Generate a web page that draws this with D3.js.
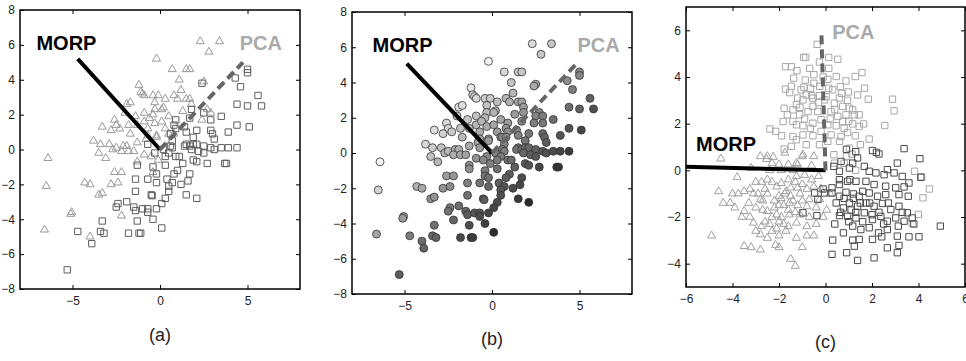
<!DOCTYPE html>
<html lang="en">
<head>
  <meta charset="UTF-8">
  <title>MORP vs PCA</title>
  <style>
    body { margin: 0; background: #fff; }
    svg { display: block; font-family: "Liberation Sans", Arial, sans-serif; }
    .axis path { display: none; }
    .axis line { stroke: #000; }
    .axis text { font-size: 12px; fill: #222; }
    .frame { fill: none; stroke: #000; stroke-width: 1.5; }
    .figlabel { font-size: 18px; text-anchor: middle; fill: #222; }
  </style>
</head>
<body>
<svg id="chart" width="966" height="361"></svg>
<script src="https://d3js.org/d3.v7.min.js"></script>
<script>
// panel (a)/(b): same samples, class 1 = triangles, class 2 = squares
var triAB = [[2.3,6.2],[3.4,6.2],[2.8,5.6],[-0.2,5.2],[0.7,4.6],[1.5,4.6],[1.7,4.6],[1.1,4.0],[2.5,3.9],
  [-1.2,3.7],[-1.0,3.2],[-0.9,3.1],[-0.4,3.1],[-0.1,3.1],[0.3,2.9],[0.8,3.1],[1.2,3.4],[1.0,2.9],[1.5,2.9],
  [1.7,2.9],[-1.7,2.7],[-0.3,2.7],[0.2,2.4],[-0.3,2.3],[0.1,2.3],[-0.9,2.1],[-1.4,1.9],[-2.0,2.1],[-0.4,2.0],
  [2.7,2.3],[2.9,2.1],[2.4,1.7],[1.3,2.2],[1.8,2.6],[0.5,1.9],[-1.9,2.6],[-2.6,1.7],[-2.5,1.4],[-3.3,1.3],
  [-2.8,1.1],[-2.3,1.2],[-1.8,1.4],[-1.7,0.9],[-1.3,1.4],[-0.9,1.6],[-0.7,1.2],[-0.3,1.5],[0.1,1.6],[0.5,0.9],
  [-3.8,0.5],[-3.4,0.3],[-2.9,0.3],[-2.5,0.1],[-2.1,0.2],[-1.9,0.2],[-1.3,0.4],[-0.7,0.8],[-0.2,0.8],[0.8,0.9],
  [-0.8,0.6],[-0.2,0.7],[-6.4,-0.5],[-3.5,-0.2],[-3.1,-0.5],[-2.7,0.0],[-2.2,-0.1],[-1.8,-0.1],[-1.5,-0.1],
  [-0.9,-0.3],[-1.3,-0.7],[-0.4,-1.3],[-2.6,-1.3],[-2.2,-1.3],[-6.5,-2.1],[-4.3,-1.9],[-4.0,-2.0],[-2.8,-2.0],
  [-2.4,-1.9],[-3.5,-2.6],[-3.3,-2.5],[-5.1,-3.7],[-5.05,-3.6],[-2.2,-3.8],[-6.6,-4.6],[-4.0,-5.0],[-0.5,-0.4],
  [-0.1,-0.6],[-1.1,3.3],[-0.6,1.8],[0.3,1.2]];
var sqAB = [[5.0,4.6],[5.0,4.4],[4.3,4.1],[4.6,3.6],[5.6,3.1],[4.4,2.6],[5.0,2.5],[5.8,2.5],[2.4,3.8],[3.5,1.9],
  [2.9,1.7],[4.4,1.4],[3.9,1.0],[5.1,1.3],[1.8,2.3],[2.5,2.1],[1.7,1.8],[0.9,1.7],[1.4,1.3],[2.1,1.1],[2.9,1.1],
  [0.8,1.4],[3.0,0.9],[3.1,0.6],[1.9,0.3],[1.5,0.3],[2.5,0.2],[2.9,0.1],[3.5,0.1],[3.9,0.1],[4.4,0.1],[0.6,0.2],
  [0.7,0.5],[-0.7,0.3],[-0.3,-0.2],[0.2,0.0],[0.5,-0.2],[0.7,0.1],[0.9,-0.4],[1.1,-0.4],[1.3,-0.8],[1.4,0.2],
  [1.7,0.2],[1.9,0.7],[1.5,1.0],[1.8,0.0],[2.1,0.3],[2.2,-0.1],[2.5,-0.2],[1.9,-0.6],[2.1,-0.7],[2.7,-0.8],
  [3.8,-0.8],[3.1,0.0],[0.6,0.9],[0.9,1.2],[0.3,-0.4],[-0.2,-1.4],[0.3,-0.9],[-1.3,-0.9],[-0.4,-1.0],[0.8,-1.4],
  [1.0,-1.2],[1.7,-1.4],[-1.4,-1.7],[-0.7,-1.7],[-0.2,-1.9],[0.4,-1.7],[0.7,-1.9],[1.2,-2.0],[1.6,-1.8],
  [-1.4,-2.4],[-0.5,-2.6],[-0.45,-2.65],[0.5,-2.1],[0.5,-2.4],[1.5,-2.6],[2.1,-2.8],[0.3,-2.8],[0.1,-3.1],
  [-0.2,-3.4],[-0.7,-3.4],[-1.0,-3.4],[-1.5,-3.3],[-1.4,-3.5],[-1.9,-3.0],[-2.4,-3.1],[-2.5,-3.3],[-0.7,-3.6],
  [-0.4,-4.0],[-1.3,-4.1],[-3.3,-4.1],[-4.7,-4.7],[-3.4,-4.7],[-3.2,-4.8],[-3.9,-5.4],[-1.8,-4.8],[-1.2,-4.8],
  [-1.1,-4.8],[0.1,-4.5],[-5.3,-6.9],[3.7,-0.8]];
var morpAB = [[-4.7, 5.2], [-4.87, 5.07]];   // end of MORP axis (a), (b)
var pcaAB = [[4.74, 5.0], [4.78, 5.01]];     // end of PCA axis (a), (b)

// panel (c)
var triC = [[-4.5,0.5],[-3.8,-0.3],[-4.6,-0.9],[-4.4,-1.4],[-4.0,-1.0],[-3.75,-1.0],[-3.5,-0.9],[-3.25,-0.8],
  [-3.0,-0.5],[-2.75,-0.5],[-2.5,-0.4],[-2.8,0.6],[-2.5,0.6],[-2.3,0.3],[-2.0,0.25],[-1.6,0.25],[-1.2,0.25],
  [-1.0,0.6],[-1.75,0.75],[-2.54,0.48],[-2.25,0.57],[-0.5,0.6],[-0.97,0.67],[-1.25,0.31],[-3.1,-1.0],
  [-2.8,-1.25],[-2.5,-1.0],[-2.1,-0.7],[-1.9,-0.55],[-1.6,-0.4],[-1.25,-0.25],[-0.9,-0.2],[-0.6,-0.4],
  [-0.3,-0.25],[-0.5,-0.7],[-0.8,-0.8],[-1.2,-0.75],[-1.5,-0.75],[-1.75,-1.0],[-2.0,-1.1],[-1.5,-1.1],
  [-1.1,-1.0],[-0.7,-1.25],[-0.25,-1.25],[0.05,-1.7],[-0.4,-1.6],[-0.8,-1.55],[-1.2,-1.5],[-1.55,-1.4],
  [-1.8,-1.5],[-2.2,-1.6],[-2.5,-1.75],[-3.5,-1.75],[-3.6,-2.0],[-3.25,-2.0],[-3.1,-2.25],[-2.75,-2.4],
  [-2.4,-2.3],[-2.3,-2.0],[-2.0,-2.2],[-1.6,-2.4],[-1.25,-2.25],[-0.8,-2.4],[-0.4,-2.3],[-1.55,-1.9],
  [-1.1,-1.9],[-0.7,-2.0],[-3.0,-2.6],[-2.8,-2.75],[-2.5,-2.9],[-2.0,-2.8],[-1.25,-2.9],[-0.8,-2.8],
  [-0.5,-2.8],[-4.9,-2.8],[-3.5,-3.25],[-3.2,-3.3],[-2.8,-3.4],[-2.15,-3.2],[-2.0,-3.3],[-1.5,-3.8],
  [-1.3,-4.1],[-1.9,-1.2],[-1.7,-0.9],[-1.4,-1.3],[-1.3,-0.5],[-1.0,-1.3],[-2.2,-1.3],[-2.3,-2.6],[-2.1,-2.5],
  [-1.9,-2.0],[-2.6,-2.2],[-3.0,-1.6],[-3.3,-1.4],[-2.9,-1.0],[-2.6,-0.8],[-2.3,-0.5],[-1.4,0.0],[-1.9,0.0],
  [-2.4,0.0],[-3.2,0.1],[-0.6,0.2],[-0.2,-0.8],[0.2,-1.0],[-0.1,-2.0],[-1.7,-2.6],[-1.0,-3.3],[-2.7,-1.7],
  [-3.9,-1.6],[-4.1,-1.4],[-1.8,-2.3],[-2.1,-1.9],[-1.3,-1.8],[-2.0,-1.5],[-1.6,-1.7],[-1.0,-0.6],[-2.7,-1.3]];
var lightC = [[-0.36,5.4],[0.14,4.84],[0.53,4.76],[-0.94,4.84],[-0.85,4.84],[-1.72,4.44],[-1.47,4.44],
  [-1.23,4.27],[-0.68,4.37],[-0.26,4.64],[0.14,4.37],[0.46,4.02],[1.28,4.02],[1.57,4.19],[0.88,3.83],[0.1,3.9],
  [-1.37,3.95],[-0.87,3.87],[-0.5,3.73],[-0.25,3.6],[-1.72,3.48],[-1.54,3.33],[-1.05,3.45],[-0.83,3.23],
  [-0.64,3.52],[0.14,3.52],[0.31,3.45],[0.64,3.59],[0.98,3.36],[1.38,3.23],[1.68,3.52],[1.84,3.05],[2.88,3.05],
  [2.95,2.55],[2.55,1.92],[1.64,1.99],[1.24,2.38],[1.03,2.66],[0.74,2.74],[0.38,2.88],[-0.04,3.02],[-0.54,3.09],
  [-0.97,3.02],[-1.25,2.81],[-1.4,2.59],[-1.78,2.66],[-1.64,2.38],[-1.11,2.38],[-0.75,2.52],[-0.54,2.74],
  [-0.33,2.52],[0.24,2.52],[0.53,2.31],[0.88,2.38],[1.17,2.59],[1.45,2.38],[1.45,1.88],[1.17,1.99],[0.74,2.09],
  [0.46,1.91],[0.1,1.95],[-0.19,2.17],[-0.54,2.02],[-0.97,1.91],[-1.25,1.95],[-1.82,2.09],[-2.39,1.77],
  [-2.14,1.67],[-1.89,1.48],[-1.4,1.45],[-0.97,1.52],[-0.54,1.48],[-0.19,1.67],[0.24,1.52],[0.67,1.45],
  [0.95,1.62],[1.28,1.48],[1.88,1.34],[1.5,1.1],[1.03,0.95],[0.6,1.24],[0.1,1.24],[-0.26,1.1],[-0.83,1.1],
  [-1.25,1.31],[-1.47,1.03],[-1.78,0.91],[0.36,0.67],[0.38,0.31],[1.14,0.7],[-0.93,3.56],[0.03,3.16],[-0.6,3.2],
  [-1.47,3.6],[0.6,3.1],[0.95,3.0],[-0.1,4.0],[-0.26,3.2],[-1.4,2.1],[-0.65,1.8],[0.8,1.8],[3.83,-0.04],
  [4.13,-0.28],[4.47,-0.8],[4.19,-1.18],[3.99,-1.89],[3.73,-2.28],[0.8,0.3],[1.3,0.0],[0.9,0.6],[-1.1,2.7],
  [-0.3,2.9],[0.4,2.6],[-0.9,2.2],[0.2,2.2],[-1.2,3.1],[0.7,3.3],[-0.5,4.1],[1.0,2.1]];
var darkC = [[3.38,0.93],[4.06,0.5],[3.09,0.31],[2.66,0.03],[2.02,0.85],[2.19,0.77],[2.3,0.7],[1.38,0.53],
  [1.17,0.31],[0.67,0.38],[0.36,0.17],[0.6,-0.04],[1.03,0.1],[1.67,0.17],[1.88,-0.04],[2.17,-0.11],[2.52,-0.19],
  [2.95,-0.11],[3.3,-0.26],[3.59,-0.54],[3.38,-0.71],[3.02,-0.75],[2.59,-0.68],[2.09,-0.61],[1.74,-0.47],
  [1.31,-0.47],[0.95,-0.47],[0.6,-0.61],[0.28,-0.75],[-0.04,-0.97],[-0.33,-1.25],[0.28,-0.97],[0.6,-1.11],
  [0.88,-0.94],[1.2,-1.01],[1.45,-1.11],[1.88,-0.97],[2.24,-1.11],[2.59,-1.04],[3.16,-1.04],[3.56,-1.11],
  [0.46,-1.4],[0.77,-1.61],[1.03,-1.4],[1.38,-1.54],[1.74,-1.4],[2.09,-1.54],[2.45,-1.42],[2.81,-1.68],
  [3.16,-1.54],[3.52,-1.82],[0.6,-1.94],[0.95,-1.97],[1.31,-2.04],[1.67,-1.82],[2.02,-2.11],[2.38,-1.97],
  [2.66,-2.18],[3.02,-2.04],[3.38,-2.18],[3.73,-2.04],[1.17,-2.39],[1.52,-2.54],[1.88,-2.46],[2.28,-2.68],
  [2.66,-2.54],[3.13,-2.39],[3.59,-2.85],[4.02,-2.85],[3.09,-2.82],[2.42,-2.85],[0.31,-2.99],[1.17,-2.99],
  [2.02,-2.96],[2.66,-3.32],[3.16,-3.22],[3.09,-3.53],[2.09,-3.75],[1.38,-3.86],[1.24,-3.25],[0.91,-3.53],
  [0.28,-3.6],[-0.97,-1.82],[-0.37,-1.94],[-0.47,-0.97],[-0.1,-0.8],[4.94,-2.39],[0.77,-2.68],[1.45,-2.96],
  [1.9,-1.4],[2.3,-1.8],[1.6,-0.9],[1.05,-0.4],[0.6,-0.4],[0.65,-1.8],[1.1,-1.7],[1.3,-1.8],[1.6,-2.2],
  [1.0,-2.2],[2.0,-1.9],[2.7,-1.4],[3.3,-1.8],[1.2,-1.2],[0.8,-1.2],[1.5,-1.4],[2.5,-2.3],[0.9,0.9],
  [1.3,0.8],[4.1,-0.3],[3.8,-2.3],[0.4,-2.3]];
var morpC = [-6, 0.15];   // end of MORP axis (c)
var pcaC = [-0.18, 6.0];  // end of PCA axis (c)

var svg = d3.select('#chart');

var panels = [
  {x: [20, 300], y: [10, 289], xd: [-8, 8], yd: [-8, 8], xt: [-5, 0, 5], yt: d3.range(-8, 9, 2),
   label: '(a)', labelY: 341, morp: [[0, 0], morpAB[0]], pca: [[0, 0], pcaAB[0]],
   morpText: [-7.06, 5.73], pcaText: [4.55, 5.73]},
  {x: [352, 632], y: [12, 294], xd: [-8, 8], yd: [-8, 8], xt: [-5, 0, 5], yt: d3.range(-8, 9, 2),
   label: '(b)', labelY: 345, morp: [[0, 0], morpAB[1]], pca: [[0, 0], pcaAB[1]],
   morpText: [-6.83, 5.73], pcaText: [4.88, 5.73]},
  {x: [686, 965], y: [7, 287], xd: [-6, 6], yd: [-5, 7], xt: d3.range(-6, 7, 2), yt: d3.range(-4, 7, 2),
   label: '(c)', labelY: 348, morp: [[0, 0], morpC], pca: [[0, 0], pcaC],
   morpText: [-5.57, 0.85], pcaText: [0.29, 5.63]}
];

var triSym = d3.symbol().type(d3.symbolTriangle).size(28);
var sqSym = d3.symbol().type(d3.symbolSquare).size(40);

// shade for (b): projection onto the MORP direction
var dir = [-0.67, 0.74];
var shade = d3.scaleLinear().domain([-4, 4]).range(['#1c1c1c', '#f4f4f4']).clamp(true);

panels.forEach(function (p, i) {
  var xs = d3.scaleLinear().domain(p.xd).range(p.x);
  var ys = d3.scaleLinear().domain(p.yd).range([p.y[1], p.y[0]]);
  var g = svg.append('g');

  // marks
  var marks = g.append('g');
  function pts(data, sym, color) {
    marks.selectAll(null).data(data).enter().append('path')
      .attr('d', sym)
      .attr('transform', function (d) { return 'translate(' + xs(d[0]) + ',' + ys(d[1]) + ')'; })
      .attr('fill', 'none').attr('stroke', color).attr('stroke-width', 1);
  }
  if (i === 0) {
    pts(triAB, triSym, '#9a9a9a');
    pts(sqAB, sqSym, '#5e5e5e');
  } else if (i === 1) {
    var all = triAB.concat(sqAB).map(function (d) {
      return {x: d[0], y: d[1], v: d[0] * dir[0] + d[1] * dir[1]};
    });
    all.sort(function (a, b) { return b.v - a.v; });
    marks.selectAll('circle').data(all).enter().append('circle')
      .attr('cx', function (d) { return xs(d.x); })
      .attr('cy', function (d) { return ys(d.y); })
      .attr('r', 4)
      .attr('fill', function (d) { return shade(d.v); })
      .attr('stroke', '#333').attr('stroke-width', 0.8);
  } else {
    pts(triC, triSym, '#a0a0a0');
    pts(lightC, sqSym, '#a8a8a8');
    pts(darkC, sqSym, '#4a4a4a');
  }

  // axis lines
  var line = d3.line().x(function (d) { return xs(d[0]); }).y(function (d) { return ys(d[1]); });
  g.append('path').attr('d', line(p.morp))
    .attr('stroke', '#000').attr('stroke-width', 4).attr('fill', 'none');
  g.append('path').attr('d', line(p.pca))
    .attr('stroke', '#666').attr('stroke-width', 4).attr('fill', 'none')
    .attr('stroke-dasharray', '9,5');

  g.append('text').attr('x', xs(p.morpText[0])).attr('y', ys(p.morpText[1]))
    .attr('font-size', 20).attr('font-weight', 'bold').attr('fill', '#000').text('MORP');
  g.append('text').attr('x', xs(p.pcaText[0])).attr('y', ys(p.pcaText[1]))
    .attr('font-size', 20).attr('font-weight', 'bold').attr('fill', '#aaa').text('PCA');

  // axes, ticks pointing inward on every side
  g.append('g').attr('class', 'axis')
    .attr('transform', 'translate(0,' + p.y[1] + ')')
    .call(d3.axisBottom(xs).tickValues(p.xt).tickSizeInner(-4).tickSizeOuter(0).tickPadding(7));
  g.append('g').attr('class', 'axis')
    .attr('transform', 'translate(0,' + p.y[0] + ')')
    .call(d3.axisTop(xs).tickValues(p.xt).tickSizeInner(-4).tickSizeOuter(0).tickFormat(''));
  g.append('g').attr('class', 'axis')
    .attr('transform', 'translate(' + p.x[0] + ',0)')
    .call(d3.axisLeft(ys).tickValues(p.yt).tickSizeInner(-4).tickSizeOuter(0).tickPadding(5));
  g.append('g').attr('class', 'axis')
    .attr('transform', 'translate(' + p.x[1] + ',0)')
    .call(d3.axisRight(ys).tickValues(p.yt).tickSizeInner(-4).tickSizeOuter(0).tickFormat(''));

  g.append('rect').attr('class', 'frame')
    .attr('x', p.x[0]).attr('y', p.y[0])
    .attr('width', p.x[1] - p.x[0]).attr('height', p.y[1] - p.y[0]);

  g.append('text').attr('class', 'figlabel')
    .attr('x', xs(0)).attr('y', p.labelY).text(p.label);
});
</script>
</body>
</html>
